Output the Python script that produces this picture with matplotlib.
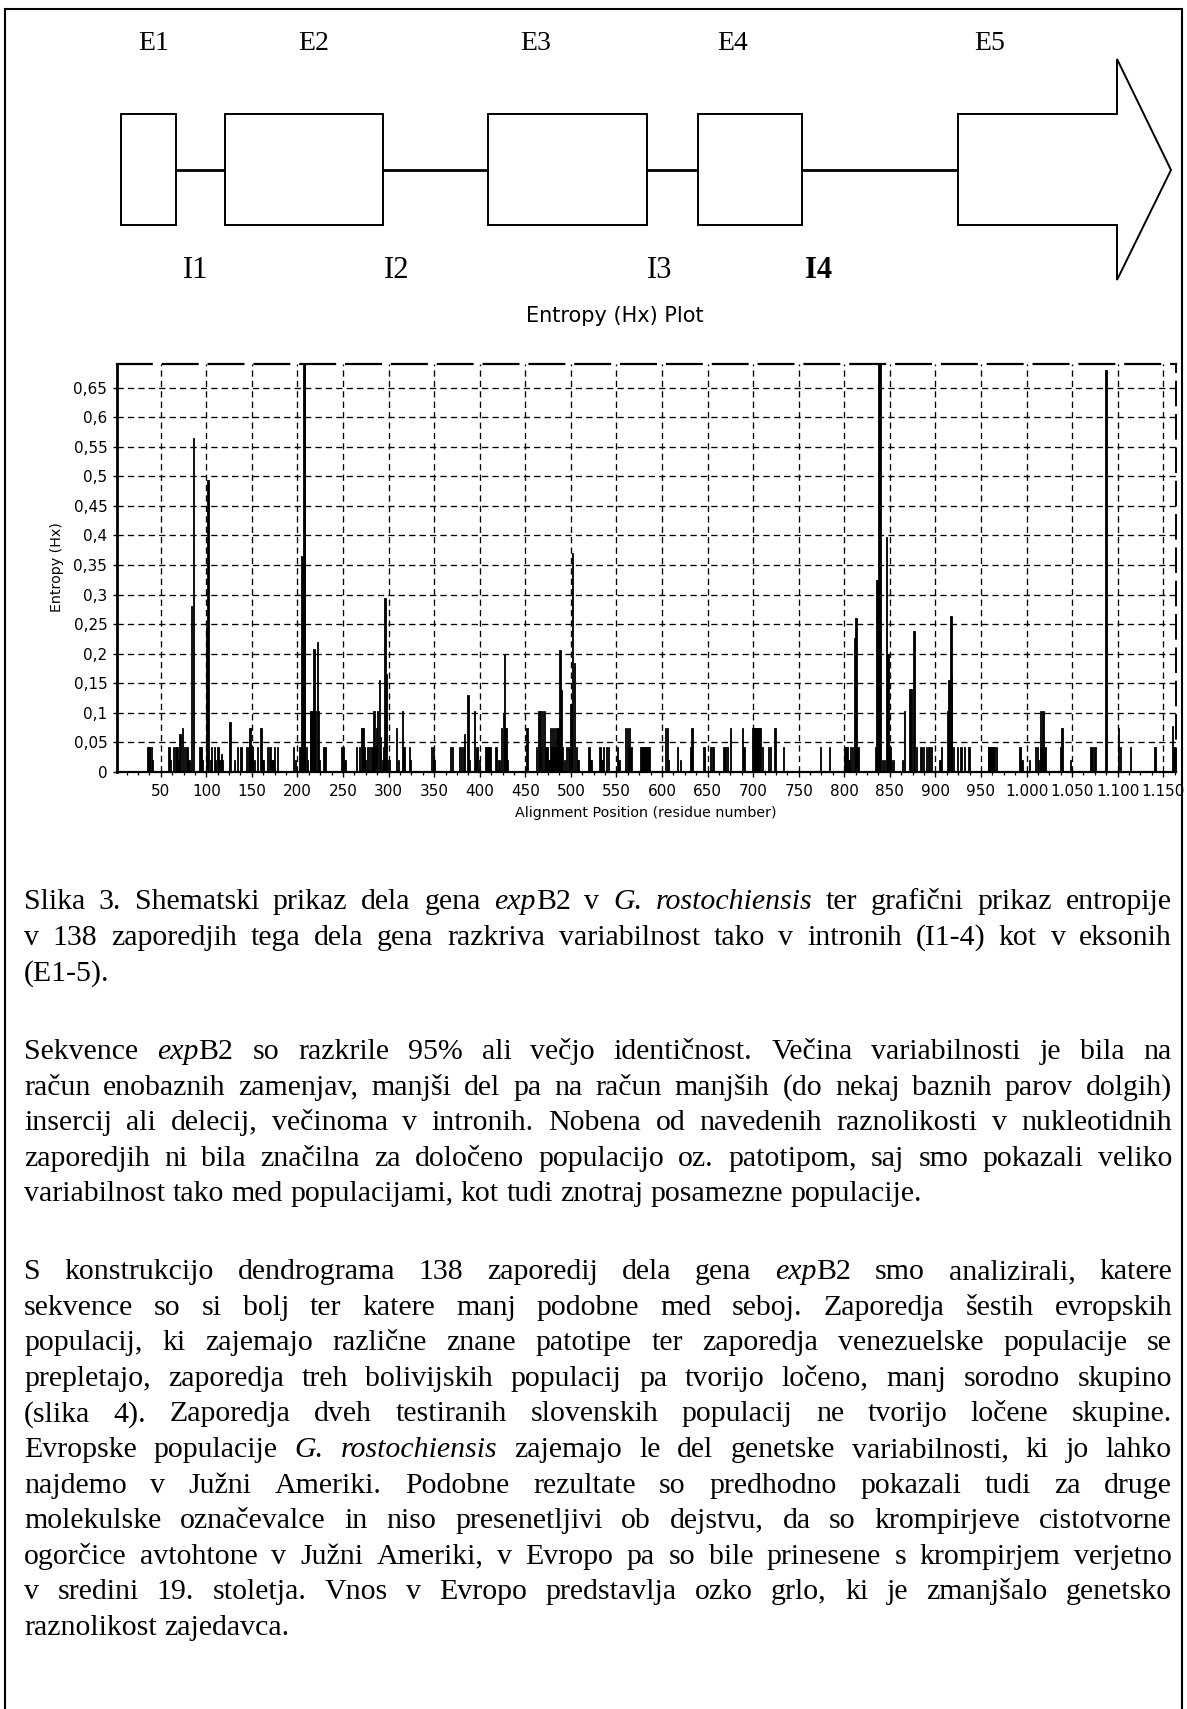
import matplotlib
matplotlib.use('Agg')
import matplotlib.pyplot as plt
from matplotlib.patches import Rectangle, Polygon
from matplotlib.ticker import MultipleLocator

plt.rcParams['lines.scale_dashes'] = False
plt.rcParams['font.family'] = ['DejaVu Sans']

W, H, DPI = 1187, 1709, 100
SERIF = 'Liberation Serif'

# ---------------- data ----------------
exon_labels = ['E1', 'E2', 'E3', 'E4', 'E5']
intron_labels = ['I1', 'I2', 'I3', 'I4']

positions = [
    36, 37, 38, 40, 41,
    59, 61, 64, 66, 67, 68, 70, 71, 74, 76, 79, 81,
    84, 86,
    93, 94, 96,
    100, 102,
    105, 106, 109, 110, 113, 115, 117, 118,
    126,
    131, 134, 138,
    144, 146, 148, 149, 150, 151, 153, 156, 160, 162,
    167, 170, 171, 173, 175, 178,
    196, 198, 202, 204, 205, 207, 208, 210, 211,
    214, 215, 216, 218, 219, 220, 222, 223, 224,
    229, 231,
    248, 250, 252,
    265, 268, 270, 272, 273, 275, 277, 279, 281,
    283, 284, 285, 287, 288, 290, 291, 293, 295, 296, 297, 299, 301,
    309, 311, 315, 317, 323, 324,
    347, 349, 350,
    368, 370, 378, 380, 382, 383, 387, 389, 394, 396, 397, 400,
    406, 408, 410, 412, 418, 421, 424, 426, 427, 429, 430,
    452,
    462, 465, 466, 467, 469, 471, 472,
    474, 476, 478, 479, 480, 481, 482, 483, 484, 485, 486, 488, 490, 491, 493, 495,
    498, 500, 502, 504, 506, 508,
    520, 522,
    532, 534, 536, 539, 541, 551, 553,
    560, 562, 563, 564, 566,
    577, 578, 579, 580, 581, 582, 583, 584, 585, 586,
    604, 606, 607,
    617, 620,
    632, 633, 646, 653, 656,
    668, 670, 672, 675,
    688, 690,
    700, 701, 702, 703, 704, 705, 706, 707, 708, 710,
    717, 719, 724, 733,
    774, 784,
    801, 803, 805, 807, 809, 811, 813, 815,
    834, 836, 838, 839, 840, 842, 844, 846, 848, 850, 852, 854,
    864, 866, 872, 874, 876, 877, 879,
    884, 887, 890, 893, 896,
    905, 907,
    914, 915, 917, 918, 920,
    924, 928, 932, 937,
    958, 959, 960, 961, 963, 964, 965, 967,
    993, 995,
    1003,
    1010, 1012, 1013, 1015, 1016, 1018, 1019, 1021,
    1037, 1039, 1048,
    1070, 1072, 1075,
    1087,
    1101, 1103, 1114, 1141,
    1160, 1162,
]

entropy = [
    0.043, 0.043, 0.043, 0.043, 0.02,
    0.043, 0.02, 0.043, 0.043, 0.043, 0.043, 0.02, 0.065, 0.075, 0.043, 0.043, 0.02,
    0.28, 0.565,
    0.043, 0.043, 0.02,
    0.245, 0.494,
    0.02, 0.043, 0.043, 0.02, 0.043, 0.02, 0.03, 0.02,
    0.085,
    0.02, 0.043, 0.043,
    0.043, 0.043, 0.075, 0.043, 0.043, 0.043, 0.02, 0.043, 0.075, 0.02,
    0.043, 0.043, 0.02, 0.02, 0.043, 0.043,
    0.043, 0.02, 0.043, 0.043, 0.366, 0.693, 0.693, 0.043, 0.02,
    0.104, 0.104, 0.104, 0.208, 0.104, 0.104, 0.22, 0.104, 0.02,
    0.043, 0.043,
    0.043, 0.043, 0.02,
    0.043, 0.043, 0.075, 0.075, 0.043, 0.02, 0.043, 0.043, 0.043,
    0.043, 0.104, 0.043, 0.075, 0.104, 0.155, 0.06, 0.02, 0.043, 0.295, 0.166, 0.02, 0.02,
    0.075, 0.02, 0.104, 0.043, 0.043, 0.02,
    0.043, 0.043, 0.02,
    0.043, 0.043, 0.043, 0.043, 0.043, 0.064, 0.131, 0.02, 0.104, 0.02, 0.043, 0.02,
    0.043, 0.043, 0.043, 0.043, 0.043, 0.02, 0.075, 0.1, 0.2, 0.075, 0.02,
    0.075,
    0.043, 0.104, 0.043, 0.104, 0.104, 0.104, 0.043,
    0.043, 0.02, 0.075, 0.043, 0.075, 0.043, 0.075, 0.043, 0.075, 0.043, 0.075, 0.206, 0.138, 0.043, 0.02, 0.043,
    0.043, 0.115, 0.37, 0.185, 0.043, 0.02,
    0.043, 0.02,
    0.043, 0.02, 0.043, 0.043, 0.043, 0.043, 0.02,
    0.075, 0.075, 0.043, 0.075, 0.043,
    0.043, 0.043, 0.043, 0.043, 0.043, 0.043, 0.043, 0.043, 0.043, 0.043,
    0.075, 0.075, 0.02,
    0.043, 0.02,
    0.043, 0.075, 0.043, 0.043, 0.043,
    0.043, 0.043, 0.043, 0.075,
    0.075, 0.043,
    0.075, 0.075, 0.075, 0.075, 0.075, 0.075, 0.075, 0.075, 0.075, 0.043,
    0.043, 0.043, 0.075, 0.043,
    0.043, 0.043,
    0.043, 0.043, 0.02, 0.043, 0.043, 0.227, 0.261, 0.043,
    0.043, 0.325, 0.693, 0.693, 0.693, 0.02, 0.02, 0.398, 0.2, 0.043, 0.02, 0.02,
    0.02, 0.104, 0.14, 0.14, 0.238, 0.238, 0.043,
    0.043, 0.043, 0.043, 0.043, 0.043,
    0.02, 0.043,
    0.104, 0.155, 0.263, 0.16, 0.043,
    0.043, 0.043, 0.043, 0.043,
    0.043, 0.043, 0.043, 0.043, 0.043, 0.043, 0.043, 0.043,
    0.043, 0.02,
    0.02,
    0.043, 0.043, 0.02, 0.104, 0.043, 0.104, 0.043, 0.043,
    0.043, 0.075, 0.02,
    0.043, 0.043, 0.043,
    0.68,
    0.075, 0.043, 0.043, 0.043,
    0.078, 0.043,
]
assert len(positions) == len(entropy)

y_ticks = [0, 0.05, 0.1, 0.15, 0.2, 0.25, 0.3, 0.35, 0.4, 0.45, 0.5, 0.55, 0.6, 0.65]
y_tick_labels = ['0', '0,05', '0,1', '0,15', '0,2', '0,25', '0,3', '0,35', '0,4',
                 '0,45', '0,5', '0,55', '0,6', '0,65']
x_ticks = [50, 100, 150, 200, 250, 300, 350, 400, 450, 500, 550, 600, 650, 700,
           750, 800, 850, 900, 950, 1000, 1050, 1100, 1150]
x_tick_labels = ['50', '100', '150', '200', '250', '300', '350', '400', '450', '500',
                 '550', '600', '650', '700', '750', '800', '850', '900', '950',
                 '1.000', '1.050', '1.100', '1.150']

chart_title = 'Entropy (Hx) Plot'
x_label = 'Alignment Position (residue number)'
y_label = 'Entropy (Hx)'

paragraphs = [
    [
        'Slika 3. Shematski prikaz dela gena *exp*B2 v *G. rostochiensis* ter grafični prikaz entropije',
        'v 138 zaporedjih tega dela gena razkriva variabilnost tako v intronih (I1-4) kot v eksonih',
        '(E1-5).',
    ],
    [
        'Sekvence *exp*B2 so razkrile 95% ali večjo identičnost. Večina variabilnosti je bila na',
        'račun enobaznih zamenjav, manjši del pa na račun manjših (do nekaj baznih parov dolgih)',
        'insercij ali delecij, večinoma v intronih. Nobena od navedenih raznolikosti v nukleotidnih',
        'zaporedjih ni bila značilna za določeno populacijo oz. patotipom, saj smo pokazali veliko',
        'variabilnost tako med populacijami, kot tudi znotraj posamezne populacije.',
    ],
    [
        'S konstrukcijo dendrograma 138 zaporedij dela gena *exp*B2 smo analizirali, katere',
        'sekvence so si bolj ter katere manj podobne med seboj. Zaporedja šestih evropskih',
        'populacij, ki zajemajo različne znane patotipe ter zaporedja venezuelske populacije se',
        'prepletajo, zaporedja treh bolivijskih populacij pa tvorijo ločeno, manj sorodno skupino',
        '(slika 4). Zaporedja dveh testiranih slovenskih populacij ne tvorijo ločene skupine.',
        'Evropske populacije *G. rostochiensis* zajemajo le del genetske variabilnosti, ki jo lahko',
        'najdemo v Južni Ameriki. Podobne rezultate so predhodno pokazali tudi za druge',
        'molekulske označevalce in niso presenetljivi ob dejstvu, da so krompirjeve cistotvorne',
        'ogorčice avtohtone v Južni Ameriki, v Evropo pa so bile prinesene s krompirjem verjetno',
        'v sredini 19. stoletja. Vnos v Evropo predstavlja ozko grlo, ki je zmanjšalo genetsko',
        'raznolikost zajedavca.',
    ],
]

# ---------------- figure ----------------
fig = plt.figure(figsize=(W / DPI, H / DPI), dpi=DPI)
fig.patch.set_facecolor('white')
page = fig.add_axes([0, 0, 1, 1])
page.set_xlim(0, W)
page.set_ylim(H, 0)
page.axis('off')

# outer frame
FL, FR, FT = 5, 1182, 9
page.plot([FL, FR], [FT, FT], color='black', lw=1.5, solid_capstyle='butt')
page.plot([FL, FL], [FT, H], color='black', lw=1.5)
page.plot([FR, FR], [FT, H], color='black', lw=1.5)

# gene schematic
BY0, BY1, LY = 114, 225, 170
exon_boxes = [(121, 176), (225, 383), (488, 647), (698, 802)]
page.plot([176, 958], [LY, LY], color='black', lw=2.0, zorder=1)
for x0, x1 in exon_boxes:
    page.add_patch(Rectangle((x0, BY0), x1 - x0, BY1 - BY0, facecolor='white',
                             edgecolor='black', lw=1.4, zorder=2))
page.add_patch(Polygon([(958, BY0), (1117, BY0), (1117, 59), (1171, LY), (1117, 280),
                        (1117, BY1), (958, BY1)], closed=True, facecolor='white',
                       edgecolor='black', lw=1.4, zorder=2))
exon_x = [154, 314, 536, 733, 990]
for lab, x in zip(exon_labels, exon_x):
    page.text(x, 44, lab, family=SERIF, fontsize=20, ha='center', va='center')
intron_x = [196, 397, 660, 819]
for lab, x in zip(intron_labels, intron_x):
    page.text(x, 270, lab, family=SERIF, fontsize=22, ha='center', va='center',
              fontweight='bold' if lab == 'I4' else 'normal')

# chart texts
page.text(615, 316, chart_title, fontsize=15, ha='center', va='center')
page.text(646, 813, x_label, fontsize=10.3, ha='center', va='center')
page.text(57, 567, y_label, fontsize=10.3, ha='center', va='center', rotation=90)

# entropy chart
AL, AR, AT, AB = 117, 1176, 364, 772
ax = fig.add_axes([AL / W, 1 - AB / H, (AR - AL) / W, (AB - AT) / H])
ax.bar(positions, entropy, width=1.5, color='black', edgecolor='black', linewidth=0.6,
       zorder=3)
ax.set_xlim(2, 1164)
ax.set_ylim(0, 0.69)
ax.set_xticks(x_ticks)
ax.set_xticklabels(x_tick_labels)
ax.set_yticks(y_ticks)
ax.set_yticklabels(y_tick_labels)
ax.xaxis.set_minor_locator(MultipleLocator(12.5))
ax.tick_params(axis='x', which='major', length=3.5, width=1.0, pad=5.5, labelsize=11,
               direction='out')
ax.tick_params(axis='x', which='minor', length=2.5, width=0.9, direction='out')
ax.tick_params(axis='y', which='major', length=3, width=1.0, pad=4, labelsize=11,
               direction='out')
ax.grid(True, which='major', color='black', linestyle=(0, (4.5, 3)), linewidth=0.95)
ax.set_axisbelow(True)
ax.spines['left'].set_linewidth(2.0)
ax.spines['bottom'].set_linewidth(1.6)
ax.spines['top'].set_linewidth(1.6)
ax.spines['top'].set_linestyle((0, (25, 8)))
ax.spines['right'].set_linewidth(1.4)
ax.spines['right'].set_linestyle((0, (17, 7)))

# ---------------- justified paragraphs ----------------
renderer = fig.canvas.get_renderer()
TX0, TX1 = 24, 1172


def parse_line(line):
    words, italic = [], False
    for raw in line.split(' '):
        segs, buf = [], ''
        for ch in raw:
            if ch == '*':
                if buf:
                    segs.append((buf, italic))
                    buf = ''
                italic = not italic
            else:
                buf += ch
        if buf:
            segs.append((buf, italic))
        words.append(segs)
    return words


def seg_width(s, italic, fs):
    t = page.text(0, 0, s, fontsize=fs, family=SERIF,
                  style='italic' if italic else 'normal')
    w = t.get_window_extent(renderer=renderer).width
    t.remove()
    return w


FS0 = 21.5
space0 = 0.25 * FS0 * DPI / 72
max_nat = 0
for para in paragraphs:
    for line in para:
        ws = [sum(seg_width(s, it, FS0) for s, it in w) for w in parse_line(line)]
        max_nat = max(max_nat, sum(ws) + space0 * (len(ws) - 1))
FS = FS0 * min(1.0, (TX1 - TX0) / max_nat * 0.99)
space = 0.25 * FS * DPI / 72

pitch = 35.6
para_first = [901, 1051, 1271]
for para, y0 in zip(paragraphs, para_first):
    for i, line in enumerate(para):
        yb = y0 + i * pitch + 8
        words = parse_line(line)
        widths = [[seg_width(s, it, FS) for s, it in w] for w in words]
        totals = [sum(w) for w in widths]
        last = (i == len(para) - 1)
        if last or len(words) == 1:
            gap = space
        else:
            gap = (TX1 - TX0 - sum(totals)) / (len(words) - 1)
        x = TX0
        for w, wl in zip(words, widths):
            xx = x
            for (s, it), sw in zip(w, wl):
                page.text(xx, yb, s, fontsize=FS, family=SERIF,
                          style='italic' if it else 'normal', ha='left', va='baseline')
                xx += sw
            x += sum(wl) + gap

fig.savefig('out.png', dpi=DPI, facecolor='white')
